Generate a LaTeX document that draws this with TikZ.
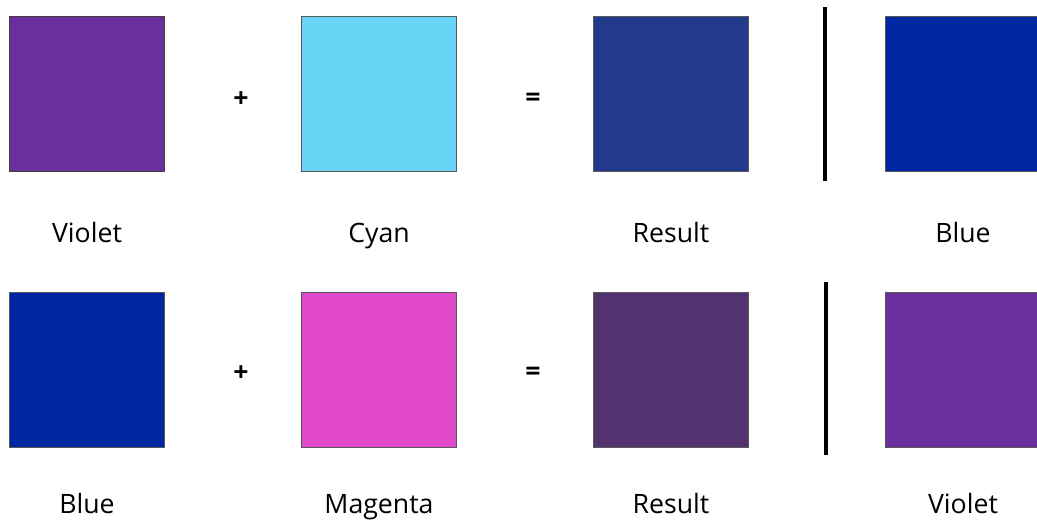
\documentclass[tikz,border=0pt]{standalone}
\usepackage{fontspec}
\setmainfont{Open Sans}
\usepackage{tikz}
\usetikzlibrary{positioning}
\definecolor{violetmix}{HTML}{6A2E9D}
\definecolor{cyanmix}{HTML}{68D4F6}
\definecolor{bluemix}{HTML}{0026A0}
\definecolor{magentamix}{HTML}{E24ACC}
\definecolor{resultone}{HTML}{213A8C}
\definecolor{resulttwo}{HTML}{533270}

\begin{document}
\begin{tikzpicture}[x=0.75pt,y=-0.75pt,
    swatch/.style={draw=black!65,line width=1.1pt,minimum width=116pt,
      minimum height=116pt,inner sep=0pt},
    swatchlabel/.style={anchor=base,font=\fontsize{20}{24}\selectfont},
    op/.style={font=\fontsize{20}{22}\selectfont\bfseries}]
    \useasboundingbox (0,0) rectangle (1037,521);
    % first row
    \node[swatch,fill=violetmix,draw=black!75] (v1) at (87,94) {};
    \node[op] (p1) at (241,100) {+};
    \node[swatch,fill=cyanmix] (c1) at (379,94) {};
    \node[op] (e1) at (533,100) {=};
    \node[swatch,fill=resultone] (r1) at (671,94) {};
    \node[swatch,fill=bluemix] (b1) at (963,94) {};
    \node[swatchlabel] (lv1) at (87,242) {Violet};
    \node[swatchlabel] (lc1) at (379,242) {Cyan};
    \node[swatchlabel] (lr1) at (671,242) {Result};
    \node[swatchlabel] (lb1) at (963,242) {Blue};
    \coordinate (s1a) at (825,7);
    \coordinate (s1b) at (825,181);
    \draw[line width=3.2pt] (s1a) -- (s1b);

    % second row
    \node[swatch,fill=bluemix] (b2) at (87,370) {};
    \node[op] (p2) at (241,374) {+};
    \node[swatch,fill=magentamix] (m2) at (379,370) {};
    \node[op] (e2) at (533,374) {=};
    \node[swatch,fill=resulttwo] (r2) at (671,370) {};
    \node[swatch,fill=violetmix] (v2) at (963,370) {};
    \node[swatchlabel] (lb2) at (87,513) {Blue};
    \node[swatchlabel] (lm2) at (379,513) {Magenta};
    \node[swatchlabel] (lr2) at (671,513) {Result};
    \node[swatchlabel] (lv2) at (963,513) {Violet};
    \coordinate (s2a) at (826,282);
    \coordinate (s2b) at (826,455);
    \draw[line width=3.2pt] (s2a) -- (s2b);
  \end{tikzpicture}
\end{document}
